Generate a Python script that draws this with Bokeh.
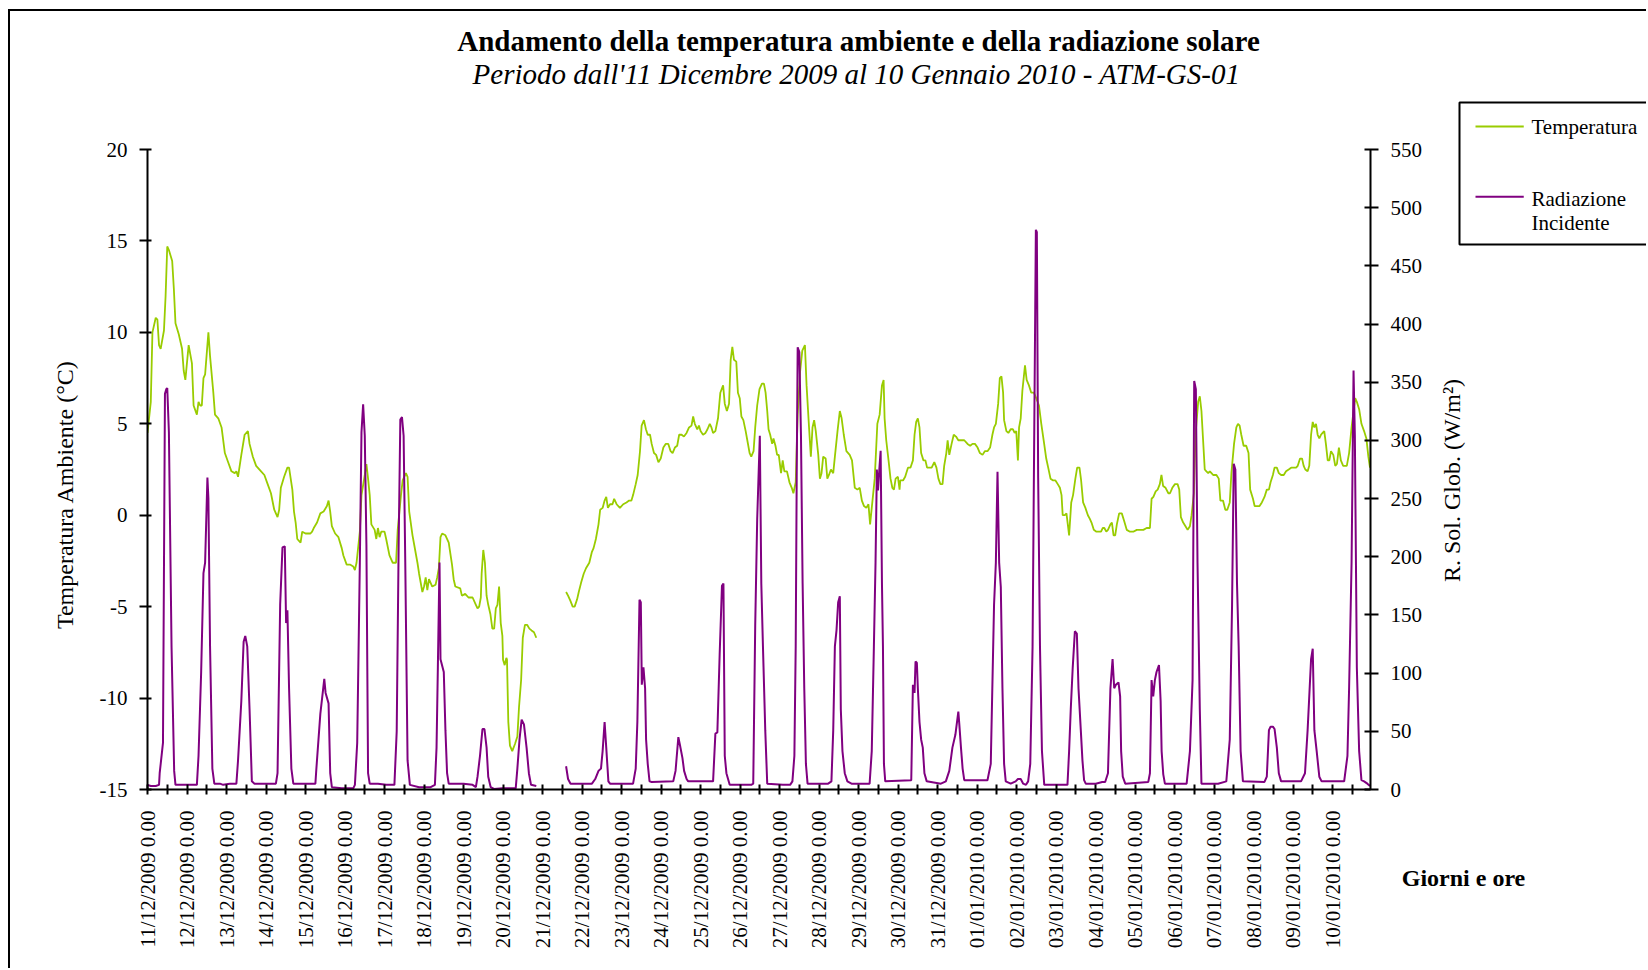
import numpy as np
from math import pi
from bokeh.plotting import figure
from bokeh.models import (Range1d, LinearAxis, FixedTicker, SingleIntervalTicker, Label)
from bokeh.embed import file_html
from bokeh.resources import INLINE

# ---------------- data ----------------
title_text = "Andamento della temperatura ambiente e della radiazione solare"
subtitle_text = "Periodo dall'11 Dicembre 2009 al 10 Gennaio 2010 - ATM-GS-01"
series_names = ["Temperatura", "Radiazione\nIncidente"]
left_axis_title = "Temperatura Ambiente (°C)"
right_axis_title = "R. Sol. Glob. (W/m²)"
x_axis_title = "Giorni e ore"

day_labels = [
    "11/12/2009 0.00", "12/12/2009 0.00", "13/12/2009 0.00", "14/12/2009 0.00",
    "15/12/2009 0.00", "16/12/2009 0.00", "17/12/2009 0.00", "18/12/2009 0.00",
    "19/12/2009 0.00", "20/12/2009 0.00", "21/12/2009 0.00", "22/12/2009 0.00",
    "23/12/2009 0.00", "24/12/2009 0.00", "25/12/2009 0.00", "26/12/2009 0.00",
    "27/12/2009 0.00", "28/12/2009 0.00", "29/12/2009 0.00", "30/12/2009 0.00",
    "31/12/2009 0.00", "01/01/2010 0.00", "02/01/2010 0.00", "03/01/2010 0.00",
    "04/01/2010 0.00", "05/01/2010 0.00", "06/01/2010 0.00", "07/01/2010 0.00",
    "08/01/2010 0.00", "09/01/2010 0.00", "10/01/2010 0.00",
]
hours_shown = 743          # hours from 11/12/2009 0.00 to the end of the record
temp_limits = (-15, 20)
rad_limits = (0, 550)

# temperature (°C): hours since 11/12/2009 0.00, value (None = missing data)
temp_hours = [
    0, 2, 3, 5, 6, 7, 8, 10, 11, 12, 13, 15, 16, 17, 19, 21, 22, 23, 25, 27, 28, 30, 31, 32, 33, 34, 35, 37, 38, 40,
    41, 43, 45, 47, 49, 51, 53, 54, 55, 57, 59, 61, 62, 64, 66, 69, 71, 73, 75, 77, 79, 80, 81, 83, 85, 86, 88, 89, 90, 91,
    93, 94, 96, 99, 100, 101, 103, 105, 107, 109, 110, 111, 112, 114, 116, 118, 119, 121, 123, 125, 126, 127, 129, 130,
    132, 133, 134, 135, 136, 138, 139, 140, 141, 142, 144, 145, 147, 149, 151, 152, 154, 155, 157, 158, 159, 161, 162,
    164, 165, 167, 168, 169, 170, 171, 173, 175, 176, 177, 178, 179, 181, 183, 185, 186, 187, 190, 191, 193, 195, 197.5,
    199.5, 200.5, 201.5, 202.5, 203, 204, 205, 206, 207, 208.3, 209.5, 210.6, 211.6, 212.6, 213.6, 214.6, 215.6, 216, 217,
    218, 218.4, 219.2, 220.2, 221.6, 223.3, 224.7, 225.7, 227, 228, 229.3, 230.7, 232, 233.3, 234.8, 236.2, 245,
    254.3, 255.5, 257, 258.3, 259.5, 261, 262, 263.4, 265, 266.4, 268.4, 270, 271, 272.4, 274, 275, 276.5, 277.7, 278.7,
    279.7, 281, 282.5, 283.5, 285, 287, 289, 291, 292.6, 294, 295, 296.6, 297.8, 299.2, 300.2, 301.6, 302.8, 303.9, 305.3,
    306.3, 307.7, 309, 310.4, 311.8, 313.4, 314.8, 316.4, 317.8, 319, 320.4, 321.8, 323, 324.5, 325.9, 327.5, 329, 330.5,
    331.5, 332.5, 334, 335, 336, 337.5, 339, 340.2, 341.6, 342.6, 343.6, 345, 346.6, 348, 349.7, 350.7, 352, 353.3, 354.3,
    355.3, 356.3, 357.7, 358.7, 359.8, 360.8, 362, 363.4, 364.4, 365.8, 366.8, 368.2, 369.2, 370.4, 371.8, 373.3, 374.5,
    375.5, 376.5, 377.3, 378.3, 379.5, 380.3, 381.5, 382.5, 383.5, 384.9, 385.9, 386.9, 388.5, 390, 391.4, 392.4, 393.8,
    395, 396.4, 397.8, 399.4, 400.4, 401.9, 403, 404, 405, 406, 407.5, 408.5, 409.5, 410.5, 412, 413, 414, 415.2, 416.6,
    417.6, 419.2, 420.6, 421.7, 423, 424.6, 426.6, 428, 429.7, 431.3, 432.7, 434, 435.3, 436.7, 438, 439, 440, 441.8,
    443.4, 444.8, 446.2, 447.2, 447.8, 448.8, 450.2, 451.4, 452.5, 453.5, 454.5, 455.9, 456.9, 457.3, 459, 460.3, 462,
    463.5, 465, 466, 467, 468, 469, 470, 471.4, 472.6, 473.6, 475, 476.4, 478, 479.3, 480.5, 481.7, 483, 484, 485.3,
    486.1, 487.1, 488.5, 489.8, 491.2, 492.6, 494.2, 496.2, 498.2, 499.8, 501.2, 502.7, 504.3, 505.7, 507.3, 508.7,
    510.3, 511.9, 513.3, 514.3, 515.4, 516.8, 517.8, 518.8, 519.8, 520.4, 521.8, 523, 524.4, 525.8, 526.8, 527.8, 528.8,
    529.5, 530.5, 531.5, 533.1, 534.1, 535.5, 536.9, 538.5, 539.9, 541.6, 543, 544.6, 546, 547.2, 548.6, 550.2, 551.6,
    553, 554.3, 555.3, 556, 557.3, 558.3, 559.1, 559.9, 561.2, 562.3, 563.7, 564.8, 566.2, 567.2, 568.4, 569.8, 571.3,
    572.5, 573.5, 574.9, 576.5, 577.9, 579.3, 580.3, 581.3, 582.5, 583.5, 585, 585.9, 586.9, 587.9, 588.9, 590.3, 591.9,
    593.3, 594.9, 596.9, 598.9, 601, 603, 605, 607, 609, 610, 611.1, 612.5, 613.7, 615, 616, 617, 618.5, 620.2, 621.2,
    622.6, 624.2, 625.8, 626.8, 627.8, 629.2, 630.6, 631.9, 633.3, 634.3, 635.7, 636.7, 638.3, 639.3, 640.3, 641.3,
    642.3, 643.3, 644.4, 645.4, 646.4, 647.4, 648.4, 649.4, 650.8, 651.8, 653.4, 654.8, 656, 657.5, 658.5, 660.1, 661.5,
    662.5, 663.5, 664.5, 665.9, 667.5, 668.9, 669.9, 671.6, 672.6, 674.2, 675.6, 677, 678.6, 680, 681.3, 682.3, 683.7,
    684.7, 686.1, 687.3, 688.7, 690.3, 691.7, 693.3, 694.8, 696.2, 697.8, 698.8, 700.2, 701.4, 702.4, 703.4, 704.8,
    705.8, 706.9, 707.9, 708.9, 709.9, 710.9, 711.9, 712.9, 713.9, 714.9, 715.9, 717, 718, 719, 720.4, 721.6, 722.6,
    723.8, 725, 726.4, 727.6, 728.6, 730, 731.5, 732.7, 733.7, 734.7, 736.1, 737.5, 739.1, 740.5, 741.7, 742.7,
]
temp_c = [
    4.5, 6.2, 10.0, 10.8, 10.7, 9.3, 9.1, 10.1, 12.0, 14.7, 14.5, 13.9, 12.4, 10.5, 9.9, 9.1, 7.9, 7.4, 9.3, 8.3, 6.0, 5.5,
    6.2, 6.0, 6.0, 7.5, 7.7, 10.0, 8.7, 6.7,
    5.5, 5.3, 4.8, 3.4, 2.9, 2.4, 2.3, 2.4, 2.1, 3.3, 4.4, 4.6, 3.9, 3.2, 2.7, 2.4, 2.2, 1.7, 1.2, 0.3, -0.1, 0.3, 1.5,
    2.1, 2.6, 2.6, 1.4, 0.2, -0.4, -1.3,
    -1.5, -0.9, -1.0, -1.0, -0.9, -0.7, -0.4, 0.1, 0.2, 0.5, 0.8, 0.2, -0.6, -1.0, -1.2, -1.8, -2.2, -2.7, -2.7, -2.8,
    -3.0, -2.6, -0.9, 1.1,
    2.2, 2.8, 2.0, 1.1, -0.5, -0.8, -1.3, -0.7, -1.2, -0.9, -0.9, -1.3, -2.2, -2.6, -2.6, -0.8, 1.1, 1.9, 2.3, 2.1, 0.2,
    -1.1, -1.6,
    -2.6, -3.2, -4.2, -3.9, -3.4, -4.1, -3.5, -3.9, -3.8, -3.4, -2.9, -1.2, -1.0, -1.1, -1.5, -2.7, -3.5, -3.9, -4.0,
    -4.4, -4.3, -4.5, -4.5,
    -4.9, -5.1, -5.0, -4.5, -3.2, -1.9, -2.6, -4.4, -4.9, -5.4, -6.2, -6.2, -5.1, -4.9, -3.9, -5.9, -6.6, -7.9, -8.2,
    -7.8, -7.9, -11.3, -12.6, -12.9, -12.5, -12.1, -10.5, -9.0, -6.7, -6.0, -6.0, -6.2, -6.3, -6.4, -6.7, None,
    -4.2, -4.4, -4.7, -5.0, -5.0, -4.6, -4.2, -3.7, -3.2, -2.9, -2.6, -2.0, -1.8, -1.3, -0.5, 0.3, 0.4, 0.8, 1.0,
    0.4, 0.6, 0.6, 0.9, 0.6, 0.4, 0.6, 0.7, 0.8, 0.8, 1.1, 1.7, 2.2, 3.5, 4.9, 5.2, 4.7, 4.4, 4.4,
    3.9, 3.4, 3.3, 2.9, 3.1, 3.7, 3.9, 3.9, 3.5, 3.4, 3.7, 3.8, 4.4, 4.4, 4.3, 4.5, 4.8, 4.9,
    5.4, 5.0, 4.7, 4.9, 4.6, 4.4, 4.5, 4.7, 5.0, 4.8, 4.5, 4.6, 5.3, 6.7, 7.1, 6.1, 5.7, 6.1, 8.5,
    9.2, 8.5, 8.4, 6.7, 6.4, 5.4, 5.2, 4.6, 4.1, 3.4, 3.2, 3.5, 4.8, 6.0, 6.9, 7.2, 7.2,
    6.7, 5.7, 4.7, 4.4, 3.9, 4.2, 3.8, 3.3, 3.3, 2.3, 3.0, 2.4, 2.4, 1.8, 1.5, 1.2, 1.8,
    5.5, 7.8, 9.0, 9.3, 7.1, 4.8, 3.2, 4.8, 5.2, 4.6, 3.3, 2.0, 2.3, 3.2, 3.1, 2.0, 2.2, 2.5, 2.3,
    3.2, 4.6, 5.7, 5.3, 4.4, 3.5, 3.3, 3.0, 1.5, 1.4, 1.5, 0.8, 0.5, 0.4, 0.6, -0.5, 0.4, 2.0,
    5.0, 5.5, 7.1, 7.4, 5.3, 4.1, 3.0, 2.0, 1.5, 1.4, 2.0, 2.1, 1.4, 1.9, 1.9, 2.1, 2.6,
    2.6, 3.0, 4.4, 5.1, 5.3, 4.8, 3.4, 3.0, 3.0, 2.6, 2.6, 2.6, 2.9, 2.6, 2.0, 1.7, 1.7, 2.7, 3.4,
    4.1, 3.3, 3.9, 4.4, 4.3, 4.1, 4.1, 4.1, 3.9, 3.8, 3.9, 3.9, 3.7, 3.4, 3.3, 3.5,
    3.5, 3.7, 4.4, 4.8, 5.0, 6.1, 7.5, 7.6, 6.7, 5.2, 4.6, 4.5, 4.7, 4.7, 4.5, 4.6, 3.0,
    4.8, 5.3, 6.8, 8.2, 7.4, 7.1, 6.7, 6.7, 6.4, 6.0, 5.0, 4.0, 3.1, 2.6, 2.0, 1.9, 1.9,
    1.7, 1.5, 1.1, 0.0, 0.0, 0.1, -0.5, -1.1, 0.7, 1.1, 2.0, 2.6, 2.6, 1.9, 0.7, 0.4, 0.0,
    -0.2, -0.4, -0.8, -0.9, -0.9, -0.9, -0.7, -0.7, -0.9, -0.8, -0.5, -0.4, -1.1, -1.1, -0.5, 0.1, 0.1,
    -0.3, -0.8, -0.9, -0.9, -0.8, -0.8, -0.8, -0.7, -0.7, 0.9, 1.0, 1.3, 1.4, 1.7, 2.2, 1.6, 1.5, 1.2, 1.2,
    1.5, 1.7, 1.7, 1.4, -0.1, -0.4, -0.6, -0.8, -0.6, 0.0, 1.2, 4.4, 6.2, 6.5, 5.7, 4.1,
    2.5, 2.4, 2.3, 2.4, 2.3, 2.2, 2.2, 2.2, 2.0, 0.8, 0.8, 0.3, 0.3, 0.7, 2.3, 3.9, 4.8,
    5.0, 4.9, 4.4, 3.8, 3.8, 3.4, 1.4, 0.9, 0.5, 0.5, 0.5, 0.7, 1.0, 1.4, 1.4, 1.8, 2.2,
    2.6, 2.6, 2.3, 2.2, 2.2, 2.4, 2.5, 2.6, 2.6, 2.6, 2.7, 3.1, 3.1, 2.7, 2.5, 2.4,
    2.7, 4.4, 5.1, 4.8, 5.0, 4.4, 4.2, 4.4, 4.5, 4.6, 3.9, 3.0, 3.0, 3.5, 3.3, 2.7, 2.8,
    3.7, 3.0, 2.7, 2.7, 2.7, 3.4, 4.8, 5.7, 6.4, 6.2, 5.8, 5.0, 4.6, 4.2, 3.2, 2.6,
]

# global solar radiation (W/m²): hours since 11/12/2009 0.00, value (None = missing data)
rad_hours = [
    0, 2, 5, 7, 7.4, 9.4, 10.6, 11.4, 12, 13, 14.6, 16.2, 17, 22, 26, 30, 31, 32.6, 34, 35, 36.4, 37, 38, 39.4, 40.6,
    44, 46, 50, 54, 55, 57, 58.4, 59.4, 60.6, 62, 63.4, 65, 70, 78, 79, 80.6, 82, 83.4, 84.2, 85, 86, 87.4, 88.6, 95,
    102, 102.6, 105, 106.6, 107.4, 108.2, 110, 111, 112, 118, 125, 126, 127.4, 129, 130, 131, 132, 133, 134, 135, 140,
    145, 150, 151.4, 152.6, 153.6, 154.6, 155.6, 156.6, 158, 159.4, 165, 172, 174.6, 175.6, 176.4, 177.4, 178, 180,
    181, 182, 183, 188, 192, 197.5, 199.5, 200.5, 202, 203.5, 204.7, 206, 207, 208.5, 210.5, 215.6, 223.7, 224.7, 226,
    227.3, 228.7, 230.3, 231.7, 233, 236.2, 245,
    254.3, 255.5, 257, 270, 272, 274, 275.5, 276.5, 277.7, 278.7, 280, 281, 295, 296.6, 297.6, 298.9, 299.7, 300.3,
    301.3, 302.3, 302.9, 303.9, 305, 306.3, 319.4, 320.8, 322.5, 323.5, 325, 326, 327.5, 328.5, 343.6, 345, 346.2,
    347.6, 349, 349.9, 350.7, 351.7, 352.7, 353.7, 366.8, 368, 369.2, 370.4, 372, 372.9, 373.9, 375.3, 376.5, 386,
    390.4, 391.8, 393, 393.8, 394.4, 395, 396, 397, 398, 399, 400, 401, 413.5, 415.5, 416.6, 417.6, 418.6, 419.6,
    420.6, 421.2, 422.2, 423.6, 425.2, 427.7, 438.7, 440, 441.3, 442.3, 443.1, 443.8, 444.6, 445.4, 446.2, 446.8,
    447.4, 448.2, 464, 465, 466, 466.6, 467.4, 468, 469, 470, 471, 472, 473.4, 482, 485, 487.1, 489, 490.8, 492.6,
    493.2, 494.2, 495.2, 496.2, 510.3, 512.3, 514.3, 515.4, 516.4, 517.4, 518.4, 519.4, 520.4, 521.4, 524.4, 527.4,
    528.8, 530.5, 532, 533.7, 535, 536.3, 537.7, 538.7, 539.7, 540.3, 541.1, 542.2, 543.4, 544.8, 558.9, 559.9, 560.9,
    562.1, 563.4, 564.6, 565.6, 567, 568, 569, 570, 576.1, 580, 581.8, 583.5, 585, 586.3, 587.3, 588.3, 589.9, 590.9,
    591.5, 592.5, 594, 608, 609, 610, 611, 612, 613, 614.5, 615.5, 616.1, 617.1, 618.1, 631.3, 633.3, 634.9, 635.9,
    636.9, 637.9, 639.3, 640.3, 650.4, 655.4, 657.5, 658.9, 659.9, 660.9, 661.9, 662.9, 664.1, 665.5, 678.6, 680,
    681.3, 682.3, 683.7, 684.7, 686.1, 687.3, 688.7, 700.8, 703.2, 704.8, 706.9, 707.9, 708.9, 710.3, 711.9, 713.3,
    727, 729, 730, 731.5, 732.7, 733.5, 734.7, 736.1, 737.5, 739.1, 741.1, 742.7,
]
rad_wm2 = [
    4, 3, 3, 4, 14, 40, 340, 344, 345, 307, 123, 16, 4, 4, 4, 4, 29, 101, 186, 195, 268, 250, 123, 18, 5,
    5, 4, 5, 5, 25, 76, 127, 132, 123, 69, 7, 5, 5, 5, 14, 159, 208, 209, 143, 154, 87, 18, 5, 5,
    5, 18, 65, 85, 95, 83, 74, 14, 2, 1, 1, 4, 40, 195, 307, 331, 304, 210, 14, 5, 5,
    4, 4, 50, 213, 318, 320, 304, 195, 25, 4, 2, 2, 4, 36, 105, 195, 112, 101,
    51, 14, 5, 5, 5, 4, 2, 11, 29, 52, 52, 36, 11, 2, 0.5, 1, 1, 18, 43,
    60, 56, 36, 14, 4, 3, None,
    20, 9, 5, 5, 9, 16, 18, 33, 58, 36, 7, 5, 5, 18, 58, 163, 161, 90,
    105, 87, 43, 22, 7, 6.5, 7, 16, 45, 38, 27, 16, 9, 7, 7, 48, 49,
    116, 175, 177, 29, 14, 9, 4, 4, 5, 141, 232, 304, 177, 123, 51, 5, 4,
    4, 7, 29, 123, 268, 380, 376, 304, 177, 87, 22, 5, 5, 7, 51, 123, 137, 161,
    166, 69, 33, 14, 7, 5, 5, 33, 123, 195, 275, 257, 275, 291, 177, 123,
    22, 7, 8, 90, 83, 110, 109, 87, 58, 43, 36, 14, 7, 5, 7, 16, 36, 47, 67,
    56, 36, 18, 8, 8, 22, 159, 195, 273, 195, 174, 87, 22, 7, 5, 7,
    9, 9, 5, 4, 7, 22, 123, 304, 481, 479, 268, 123, 33, 4, 4, 33, 69,
    105, 136, 134, 87, 51, 25, 8, 5, 5, 6.5, 6.5, 14, 87, 112, 87, 90, 92, 80,
    33, 11, 5, 6.5, 14, 94, 80, 94, 101, 107, 76, 33, 13, 5, 5, 33, 94, 351,
    344, 195, 69, 5, 5, 7, 43, 159, 280, 275, 177, 123, 33, 7, 6.5, 11,
    51, 54, 54, 52, 36, 14, 7, 7, 14, 51, 112, 121, 51, 33, 11, 7,
    7, 29, 87, 195, 360, 304, 105, 33, 8, 7, 5, 3,
]

# ---------------- layout / styling ----------------
TEMP_COLOR = "#99CC00"
RAD_COLOR = "#800080"
SERIF = "Liberation Serif"

OX, OY = 10, 11                 # canvas origin on the page (after CSS margin + border)
FL, FT, FR, FB = 147, 149, 1370, 789   # plot-frame edges on the page
W, H = 1648 - OX, 970 - OY
MBL, MBT = FL - OX, FT - OY
FW, FH = FR - FL, FB - FT

p = figure(width=W, height=H, output_backend="svg", toolbar_location=None,
           x_range=Range1d(0, hours_shown), y_range=Range1d(*temp_limits),
           min_border_left=MBL, min_border_top=MBT,
           min_border_right=W - MBL - FW, min_border_bottom=H - MBT - FH)
p.margin = (9, 0, 0, 8)
p.styles = {"border-left": "2px solid black", "border-top": "2px solid black"}
p.title.visible = False
p.outline_line_color = None
p.grid.visible = False
p.background_fill_color = "white"
p.border_fill_color = "white"
p.extra_y_ranges = {"rad": Range1d(*rad_limits)}

right_axis = LinearAxis(y_range_name="rad",
                        ticker=SingleIntervalTicker(interval=50, num_minor_ticks=0))
p.add_layout(right_axis, "right")

xax = p.xaxis[0]
yax = p.yaxis[0]
for ax in (xax, yax, right_axis):
    ax.axis_line_width = 2
    ax.axis_line_color = "black"
    ax.major_tick_line_width = 2
    ax.major_tick_line_color = "black"
    ax.minor_tick_line_color = None
    ax.major_label_text_font = SERIF
    ax.major_label_text_color = "black"

n_days = len(day_labels)
xax.ticker = FixedTicker(ticks=[12 * k for k in range(2 * n_days)])
overrides = {}
for k in range(2 * n_days):
    overrides[12 * k] = day_labels[k // 2] if k % 2 == 0 else ""
xax.major_label_overrides = overrides
xax.major_label_orientation = pi / 2
xax.major_label_text_font_size = "21px"
xax.major_tick_in = 5
xax.major_tick_out = 5
xax.major_label_standoff = 16

yax.ticker = SingleIntervalTicker(interval=5, num_minor_ticks=0)
yax.major_label_overrides = {v: str(v) for v in range(temp_limits[0], temp_limits[1] + 1, 5)}
yax.major_label_text_font_size = "21px"
yax.major_tick_in = 4
yax.major_tick_out = 8
yax.major_label_standoff = 12

right_axis.major_label_text_font_size = "21px"
right_axis.major_tick_in = 6
right_axis.major_tick_out = 8
right_axis.major_label_standoff = 12

# ---------------- series ----------------
p.line(np.array(temp_hours, dtype=float), np.array(temp_c, dtype=float),
       line_color=TEMP_COLOR, line_width=1.8)
p.line(np.array(rad_hours, dtype=float), np.array(rad_wm2, dtype=float),
       y_range_name="rad", line_color=RAD_COLOR, line_width=2)


# ---------------- texts placed in the side panels (not clipped) ----------------
def make_label(text, x, y, size, style="normal", angle=0.0, align="center",
               baseline="middle", **extra):
    return Label(x=x, y=y, x_units="screen", y_units="screen", text=text,
                 text_font=SERIF, text_font_size=f"{size}px", text_font_style=style,
                 text_align=align, text_baseline=baseline, angle=angle,
                 text_color="black", **extra)


def set_padding(label, left, right, top, bottom):
    for pad in (dict(left=left, right=right, top=top, bottom=bottom),
                (top, right, bottom, left)):
        try:
            label.padding = pad
            return
        except Exception:
            continue


# above panel: items stack outward from the frame
p.add_layout(make_label(subtitle_text, 856 - FL, FT - 73, 29, "italic"), "above")
p.add_layout(make_label(title_text, 858 - FL, (FT - 32) - 40, 29, "bold"), "above")
p.add_layout(make_label(x_axis_title, 1463 - FL, (FT - 64) - 877, 24, "bold"), "above")

# legend key lines (thin filled strips), also hosted by the above panel
LINE_SLOT0 = FT - 62 - 26          # bottom of the first key-line slot (page y)
for i, (color, ky) in enumerate([(TEMP_COLOR, 128), (RAD_COLOR, 198)]):
    key = make_label(" ", 1475 - FL, (LINE_SLOT0 - 2.2 * i) - ky, 1, align="left",
                     background_fill_color=color, background_fill_alpha=1.0)
    set_padding(key, 0, 48, 1, 0)
    p.add_layout(key, "above")

# left panel: rotated titles of both value axes
p.add_layout(make_label(left_axis_title, 66 - 72, FB - 494, 24, angle=pi / 2), "left")
p.add_layout(make_label(right_axis_title, 1450 - 43, FB - 480, 24, angle=pi / 2), "left")

# legend box with its entries, hosted by the right panel (after the right axis)
legend_text = series_names[0] + "\n \n \n" + series_names[1]
box = make_label(legend_text, 1456 - (FR + 52), FB - 102, 21, align="left", baseline="top",
                 text_line_height=1.0,
                 border_line_color="black", border_line_width=2, border_line_alpha=1.0,
                 background_fill_color=None, background_fill_alpha=0.0)
set_padding(box, 72, 30, 12, 10)
p.add_layout(box, "right")

open("out.html", "w").write(file_html(p, INLINE))
